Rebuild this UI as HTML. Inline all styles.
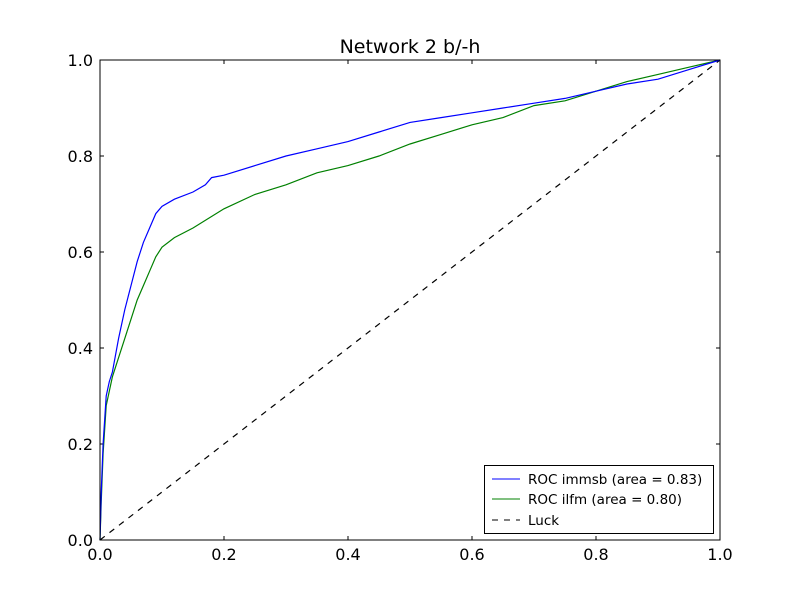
<!DOCTYPE html>
<html><head><meta charset="utf-8"><style>
body{margin:0;background:#fff}
svg{display:block;font-family:"DejaVu Sans","Liberation Sans",sans-serif}
</style></head><body>
<svg id="chart" width="800" height="600">
<rect width="800" height="600" fill="#fff"/>
<text x="410" y="53" font-size="19" text-anchor="middle">Network 2 b/-h</text>
<g id="ticks"></g>
<g id="series"></g>
<rect x="100" y="60" width="620" height="480" fill="none" stroke="#000" stroke-width="1"/>
<g>
<rect x="484.5" y="465.5" width="229" height="68" fill="#fff" stroke="#000"/>
<line x1="492" y1="479" x2="520" y2="479" stroke="#0000ff"/>
<text x="528" y="484" font-size="13.5">ROC immsb (area = 0.83)</text>
<line x1="492" y1="499" x2="520" y2="499" stroke="#008000"/>
<text x="528" y="504" font-size="13.5">ROC ilfm (area = 0.80)</text>
<line x1="492" y1="520" x2="520" y2="520" stroke="#000" stroke-dasharray="6,6"/>
<text x="528" y="525" font-size="13.5">Luck</text>
</g>
</svg>
<script>
const tickVals=[0,0.2,0.4,0.6,0.8,1.0];
const tickLabels=["0.0","0.2","0.4","0.6","0.8","1.0"];
const immsbFpr=[0,0.002,0.005,0.01,0.015,0.02,0.03,0.04,0.05,0.06,0.07,0.08,0.09,0.1,0.12,0.15,0.17,0.18,0.2,0.25,0.3,0.35,0.4,0.45,0.5,0.55,0.6,0.65,0.7,0.75,0.8,0.85,0.9,0.95,1];
const immsbTpr=[0,0.1,0.2,0.3,0.33,0.35,0.42,0.48,0.53,0.58,0.62,0.65,0.68,0.695,0.71,0.725,0.74,0.755,0.76,0.78,0.8,0.815,0.83,0.85,0.87,0.88,0.89,0.9,0.91,0.92,0.935,0.95,0.96,0.98,1];
const ilfmFpr=[0,0.002,0.005,0.01,0.02,0.03,0.04,0.05,0.06,0.07,0.08,0.09,0.1,0.12,0.15,0.2,0.25,0.3,0.35,0.4,0.45,0.5,0.55,0.6,0.65,0.7,0.75,0.8,0.85,0.9,0.95,1];
const ilfmTpr=[0,0.08,0.18,0.28,0.34,0.38,0.42,0.46,0.5,0.53,0.56,0.59,0.61,0.63,0.65,0.69,0.72,0.74,0.765,0.78,0.8,0.825,0.845,0.865,0.88,0.905,0.915,0.935,0.955,0.97,0.985,1];
const luckX=[0,1], luckY=[0,1];
const NS="http://www.w3.org/2000/svg";
const sx=v=>100+v*620, sy=v=>540-v*480;
const tg=document.getElementById('ticks');
tickVals.forEach((v,i)=>{
  const segs=[[sx(v),540,sx(v),536],[sx(v),60,sx(v),64],[100,sy(v),104,sy(v)],[720,sy(v),716,sy(v)]];
  segs.forEach(s=>{const l=document.createElementNS(NS,'line');
    l.setAttribute('x1',s[0]);l.setAttribute('y1',s[1]);l.setAttribute('x2',s[2]);l.setAttribute('y2',s[3]);
    l.setAttribute('stroke','#000');
    
    
    tg.appendChild(l);});
  const tx=document.createElementNS(NS,'text');
  tx.setAttribute('x',sx(v));tx.setAttribute('y',560);tx.setAttribute('font-size','16');tx.setAttribute('text-anchor','middle');
  tx.textContent=tickLabels[i];
  
  
  tg.appendChild(tx);
  const ty=document.createElementNS(NS,'text');
  ty.setAttribute('x',93);ty.setAttribute('y',sy(v)+6);ty.setAttribute('font-size','16');ty.setAttribute('text-anchor','end');
  ty.textContent=tickLabels[i];
  
  
  tg.appendChild(ty);
});
const sg=document.getElementById('series');
function line(xs,ys,color,dash,name){
  const p=document.createElementNS(NS,'polyline');
  p.setAttribute('points',xs.map((x,i)=>sx(x)+','+sy(ys[i])).join(' '));
  p.setAttribute('fill','none');p.setAttribute('stroke',color);p.setAttribute('stroke-width','1.2');
  if(dash)p.setAttribute('stroke-dasharray',dash);
  
  
  sg.appendChild(p);
}
line(luckX,luckY,'#000','6,6','luck-line');
line(ilfmFpr,ilfmTpr,'#008000',null,'roc-ilfm-line');
line(immsbFpr,immsbTpr,'#0000ff',null,'roc-immsb-line');
</script>
</body></html>
